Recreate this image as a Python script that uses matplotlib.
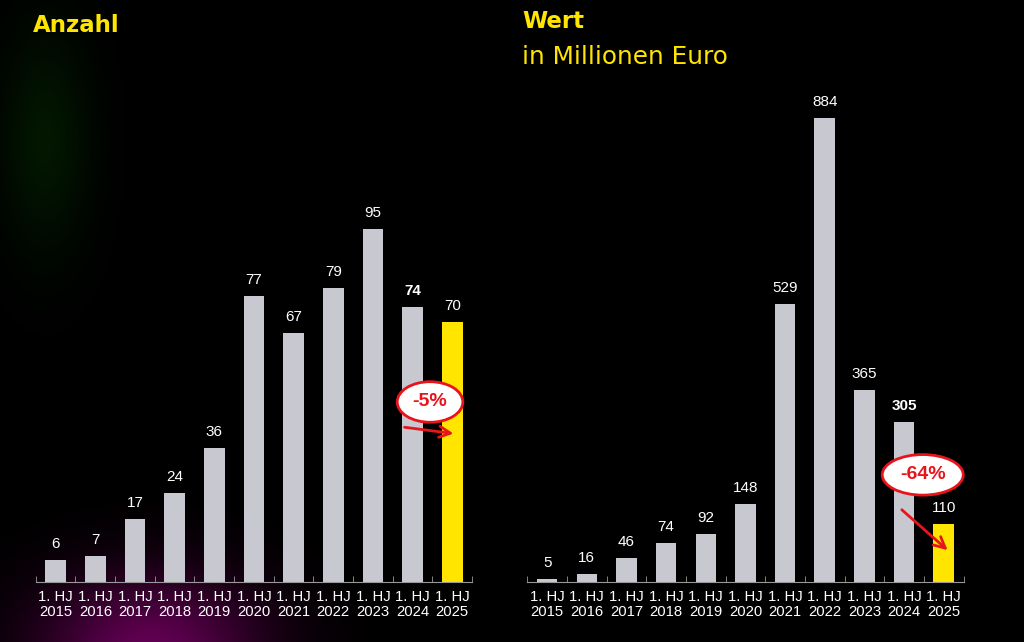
import numpy as np
import matplotlib.pyplot as plt

# Daten
jahre = ["2015", "2016", "2017", "2018", "2019", "2020", "2021", "2022", "2023", "2024", "2025"]
anzahl = [6, 7, 17, 24, 36, 77, 67, 79, 95, 74, 70]
wert = [5, 16, 46, 74, 92, 148, 529, 884, 365, 305, 110]
labels = ["1. HJ\n" + j for j in jahre]

grau = "#c8c8d0"
gelb = "#ffe500"
rot = "#e8141c"

fig = plt.figure(figsize=(10.24, 6.42), dpi=100)
fig.patch.set_facecolor("black")

# Hintergrund mit leichtem Schimmer
bg = fig.add_axes([0, 0, 1, 1])
yy, xx = np.mgrid[0:642, 0:1024]
img = np.zeros((642, 1024, 3))
lila = np.exp(-(((xx - 150) / 110.0) ** 2 + ((yy - 650) / 75.0) ** 2))
gruen = np.exp(-(((xx - 45) / 45.0) ** 2 + ((yy - 140) / 110.0) ** 2))
img[..., 0] += 0.38 * lila
img[..., 2] += 0.32 * lila
img[..., 1] += 0.09 * gruen
img[..., 0] += 0.01 * gruen
bg.imshow(np.clip(img, 0, 1), aspect="auto", extent=[0, 1024, 642, 0])
bg.axis("off")

def balken(ax, werte, ymax):
    x = np.arange(len(werte))
    farben = [grau] * (len(werte) - 1) + [gelb]
    ax.bar(x, werte, width=0.52, color=farben, zorder=2)
    ax.set_xlim(-0.5, len(werte) - 0.5)
    ax.set_ylim(0, ymax)
    ax.set_facecolor("none")
    for s in ["top", "right", "left"]:
        ax.spines[s].set_visible(False)
    ax.spines["bottom"].set_color("#999999")
    ax.set_yticks([])
    ax.set_xticks(x)
    ax.set_xticklabels(labels, color="white", fontsize=10.7, family="Liberation Sans",
                       linespacing=1.05)
    ax.tick_params(axis="x", which="major", length=0, pad=6)
    ax.set_xticks(np.arange(-0.5, len(werte), 1), minor=True)
    ax.tick_params(axis="x", which="minor", direction="in", length=4, color="#999999")
    for i, v in enumerate(werte):
        ax.text(i, v + ymax * 0.018, str(v), ha="center", va="bottom", color="white",
                fontsize=11, family="Liberation Sans",
                fontweight="bold" if i == 9 else "normal")

ax1 = fig.add_axes([0.035, 0.0935, 0.426, 0.782])
balken(ax1, anzahl, 135)
ax2 = fig.add_axes([0.515, 0.0935, 0.426, 0.782])
balken(ax2, wert, 956)

# Titel
fig.text(33 / 1024, 1 - 25 / 642, "Anzahl", color=gelb, fontsize=16.5, fontweight="bold", va="center")
fig.text(522 / 1024, 1 - 22 / 642, "Wert", color=gelb, fontsize=16.5, fontweight="bold", va="center")
fig.text(522 / 1024, 1 - 57 / 642, "in Millionen Euro", color=gelb, fontsize=17.8, va="center")

# Veränderung
box = dict(boxstyle="ellipse,pad=0.3", fc="white", ec=rot, lw=2)
pfeil = dict(arrowstyle="->", color=rot, lw=2, mutation_scale=20)
ax1.text(9.44, 48.4, "-5%", ha="center", va="center", color=rot, fontsize=14,
         fontweight="bold", bbox=box, zorder=5, family="Liberation Sans")
ax1.annotate("", xy=(10.1, 39.8), xytext=(8.73, 41.7), arrowprops=pfeil, zorder=5)
ax2.text(9.47, 204, "-64%", ha="center", va="center", color=rot, fontsize=14,
         fontweight="bold", bbox=box, zorder=5, family="Liberation Sans")
ax2.annotate("", xy=(10.15, 57), xytext=(8.89, 141), arrowprops=pfeil, zorder=5)

fig.savefig("out.png", dpi=100, facecolor="black")
